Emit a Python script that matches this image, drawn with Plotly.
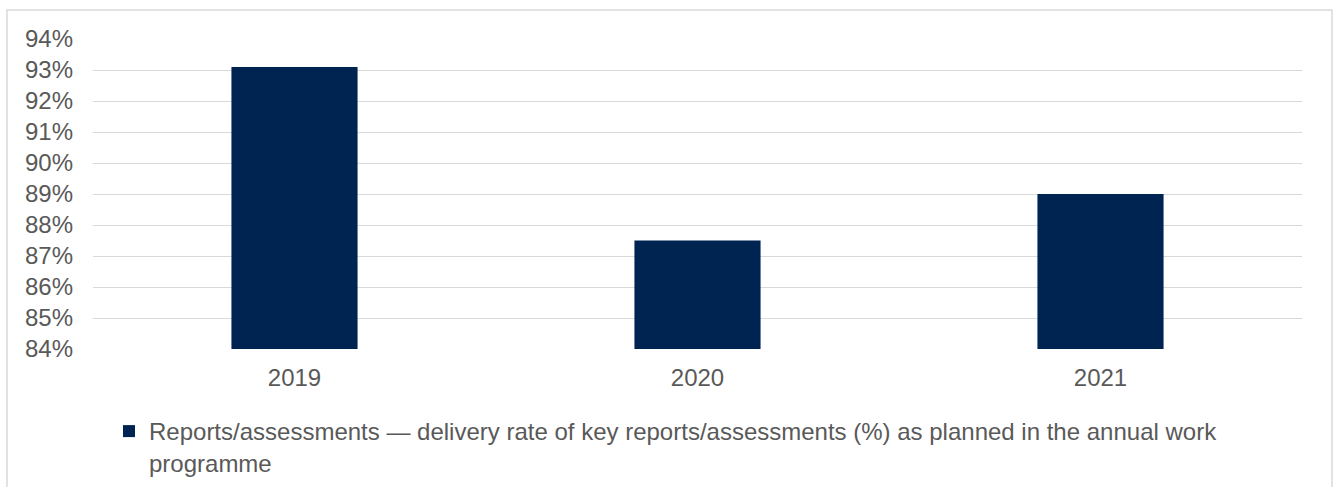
import plotly.graph_objects as go

# Delivery rate of key reports/assessments per year (%)
years = ["2019", "2020", "2021"]
delivery_rate = [93.1, 87.5, 89.0]
y_ticks = [84, 85, 86, 87, 88, 89, 90, 91, 92, 93, 94]
y_tick_labels = [f"{v}%" for v in y_ticks]
series_name = ("Reports/assessments \u2014 delivery rate of key reports/assessments (%) "
               "as planned in the annual work<br>programme")

W, H = 1334, 487
M = dict(l=93, r=32, t=39, b=138, autoexpand=False)
FONT = "Liberation Sans, Arial, sans-serif"
FS = 24
GREY = "#595959"
GRID = "#d9d9d9"

fig = go.Figure()
fig.add_trace(go.Bar(
    x=years,
    y=delivery_rate,
    name=series_name,
    marker=dict(color="#002452", line=dict(width=0)),
    showlegend=True,
))

pw = W - M["l"] - M["r"]
ph = H - M["t"] - M["b"]


def px_x(p):
    return (p - M["l"]) / pw


def px_y(p):
    return (H - M["b"] - p) / ph


# outer frame around the whole chart
fig.add_shape(type="rect", xref="paper", yref="paper",
              x0=px_x(7), x1=px_x(1332), y0=px_y(520), y1=px_y(10),
              line=dict(color=GRID, width=1.5), fillcolor="rgba(0,0,0,0)", layer="below")

fig.update_layout(
    width=W, height=H,
    margin=M,
    paper_bgcolor="white",
    plot_bgcolor="white",
    font=dict(family=FONT, size=FS, color=GREY),
    bargap=0.687,
    showlegend=True,
    legend=dict(
        x=px_x(109), y=px_y(409), xanchor="left", yanchor="top",
        orientation="h", valign="top",
        font=dict(family=FONT, size=FS, color=GREY),
        bgcolor="rgba(0,0,0,0)", borderwidth=0,
    ),
    xaxis=dict(
        showgrid=False, showline=False, zeroline=False,
        ticks="", ticklabelstandoff=12,
        tickfont=dict(family=FONT, size=FS, color=GREY),
    ),
    yaxis=dict(
        range=[84, 94], tickmode="array", tickvals=y_ticks, ticktext=y_tick_labels,
        showgrid=True, gridcolor=GRID, gridwidth=1,
        zeroline=False, showline=False, ticks="",
        ticklabelstandoff=19,
        tickfont=dict(family=FONT, size=FS, color=GREY),
    ),
)

fig.write_html("out.html")
